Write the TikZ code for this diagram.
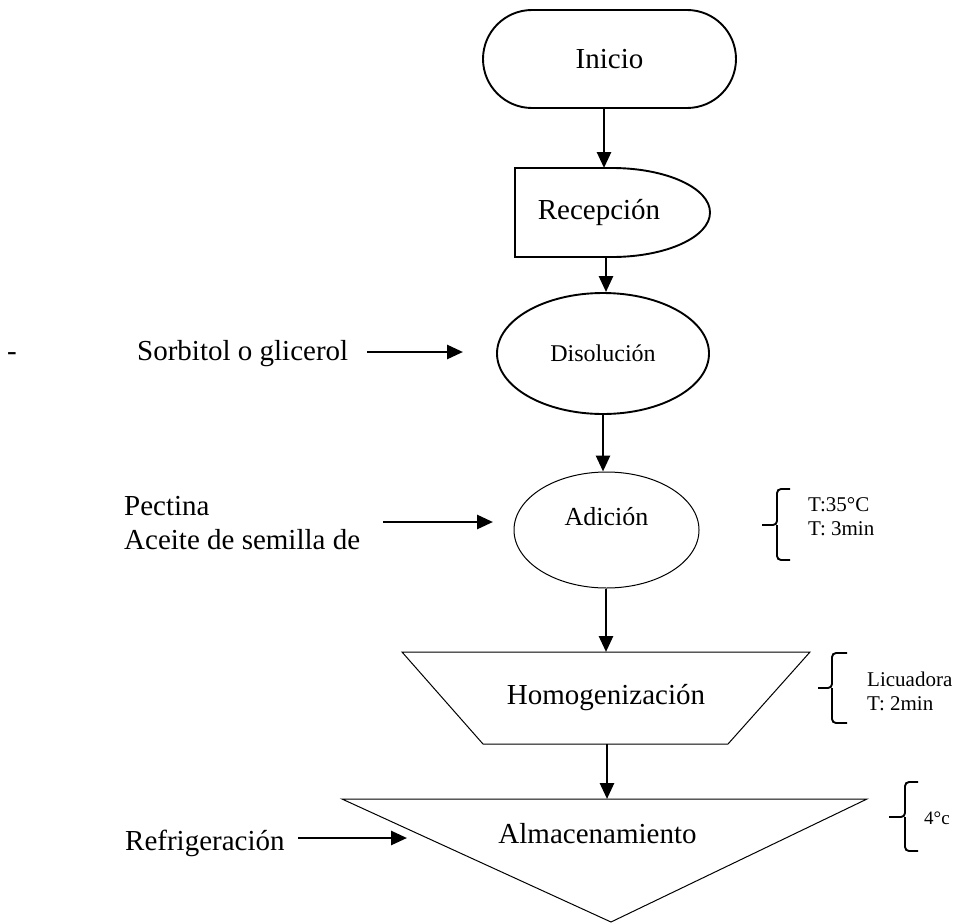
\documentclass[tikz,border=0pt]{standalone}
\usepackage{fontspec}
\setmainfont{Liberation Serif}
\usetikzlibrary{arrows.meta,shapes.geometric}
\begin{document}
\begin{tikzpicture}[x=1pt,y=-1pt,
  big/.style={font=\fontsize{29}{34}\selectfont},
  small/.style={font=\fontsize{21}{24}\selectfont},
  heavy/.style={line width=1.9pt},
  light/.style={line width=1pt},
  arr/.style={line width=2.7pt,-{Triangle[length=16pt,width=14pt]}},
  brace/.style={line width=1.9pt,rounded corners=4pt},
  lbl/.style={inner sep=0pt},
  ghost/.style={inner sep=0pt,outer sep=0pt}]
\useasboundingbox (0,0) rectangle (957,923);

% Inicio
\node[draw,heavy,rounded corners=49pt,minimum width=253pt,minimum height=98pt,big] (inicio) at (609.5,59) {Inicio};

% Recepcion (delay shape)
\node[ghost,minimum width=195pt,minimum height=89pt] (recep) at (612.5,212.5) {};
\draw[heavy] (recep.north west) -- ++(97,0) arc[start angle=-90,end angle=90,x radius=98,y radius=44.5] -- (recep.south west) -- cycle;
\node[big,lbl,anchor=base] (recept) at (599,219) {Recepción};

% Disolucion
\node[ellipse,draw,heavy,minimum width=212pt,minimum height=121pt,inner sep=0pt,font=\fontsize{24}{28}\selectfont] (disol) at (603,353.5) {Disolución};

% Adicion
\node[ellipse,draw,light,minimum width=185pt,minimum height=116pt,inner sep=0pt] (adic) at (606.5,530) {};
\node[lbl,font=\fontsize{26}{30}\selectfont] (adict) at ([yshift=13.5pt]adic.center) {Adición};

% Homogenizacion (trapezoid)
\node[ghost,minimum width=408pt,minimum height=92pt,big] (homog) at (606,698) {Homogenización};
\draw[light] (homog.north west) -- (homog.north east) -- ([xshift=-82pt]homog.south east) -- ([xshift=81pt]homog.south west) -- cycle;

% Almacenamiento (inverted triangle)
\node[ghost,minimum width=525pt,minimum height=123pt] (alm) at (604.5,860.5) {};
\draw[light] (alm.north west) -- (alm.north east) -- ([xshift=6.5pt]alm.south) -- cycle;
\node[big,lbl,anchor=base] (almt) at (597.5,843) {Almacenamiento};

% main flow arrows
\draw[arr] ([xshift=-5.5pt]inicio.south) -- ([xshift=-8.5pt]recep.north);
\draw[arr] ([xshift=-6.5pt]recep.south) -- ([xshift=3pt]disol.north);
\draw[arr] (disol.south) -- ([xshift=-3.5pt]adic.north);
\draw[arr] ([xshift=-0.5pt]adic.south) -- (homog.north);
\draw[arr] ([xshift=1pt]homog.south) -- ([xshift=2.5pt]alm.north);

% left inputs
\node[big,lbl,anchor=base] (dash) at (12,360) {-};
\node[big,lbl,anchor=base west] (sorb) at (137,360) {Sorbitol o glicerol};
\coordinate (sorbA) at (367,352);
\coordinate (sorbB) at (463,352);
\draw[arr] (sorbA) -- (sorbB);

\node[big,lbl,anchor=base west] (pect) at (124,515) {Pectina};
\node[big,lbl,anchor=base west] (aceite) at (124,549) {Aceite de semilla de};
\coordinate (pectA) at (383,522);
\coordinate (pectB) at (493,522);
\draw[arr] (pectA) -- (pectB);

\node[big,lbl,anchor=base west] (refri) at (125,850) {Refrigeración};
\coordinate (refA) at (298,838);
\coordinate (refB) at (407,838);
\draw[arr] (refA) -- (refB);

% right braces and notes
\coordinate (b1t) at (790,489);
\coordinate (b1b) at (790,560);
\coordinate (b1m) at (762,525);
\draw[brace] (b1t) -- (777,489) -- (777,525) -- (b1m);
\draw[brace] (b1b) -- (777,560) -- (777,525);
\node[small,lbl,anchor=base west] (n1a) at (808,511) {T:35°C};
\node[small,lbl,anchor=base west] (n1b) at (808,535) {T: 3min};

\coordinate (b2t) at (847,653);
\coordinate (b2b) at (847,723);
\coordinate (b2m) at (818,688);
\draw[brace] (b2t) -- (832,653) -- (832,688) -- (b2m);
\draw[brace] (b2b) -- (832,723) -- (832,688);
\node[small,lbl,anchor=base west] (n2a) at (867,686) {Licuadora};
\node[small,lbl,anchor=base west] (n2b) at (867,710) {T: 2min};

\coordinate (b3t) at (918,782);
\coordinate (b3b) at (918,851);
\coordinate (b3m) at (889,817);
\draw[brace] (b3t) -- (905,782) -- (905,817) -- (b3m);
\draw[brace] (b3b) -- (905,851) -- (905,817);
\node[lbl,anchor=base west,font=\fontsize{19}{22}\selectfont] (n3) at (924,824) {4°c};
\end{tikzpicture}
\end{document}
